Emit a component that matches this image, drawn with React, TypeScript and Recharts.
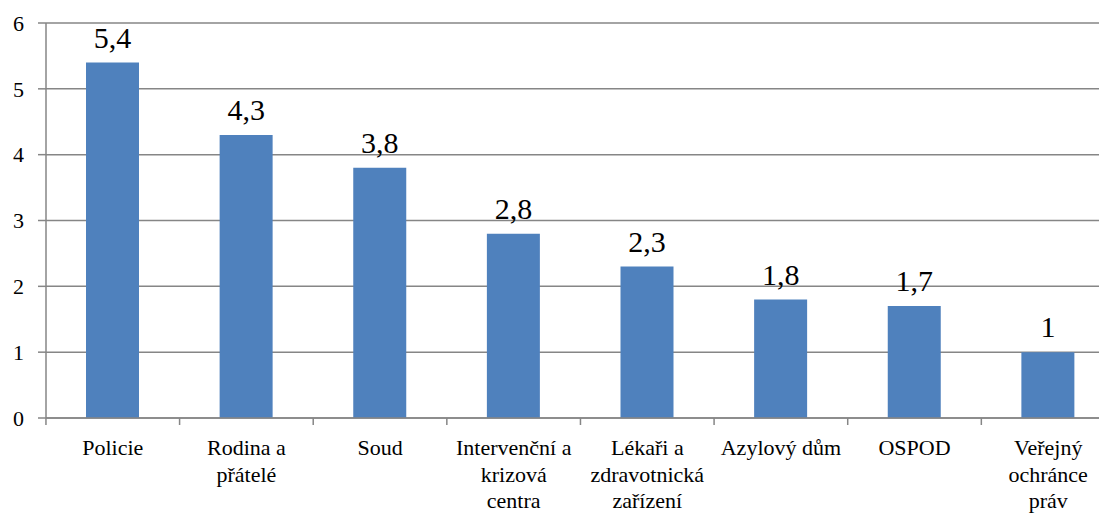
import React from "react";
import { BarChart, Bar, XAxis, YAxis, CartesianGrid, LabelList } from "recharts";

const categories = [
  "Policie",
  "Rodina a přátelé",
  "Soud",
  "Intervenční a krizová centra",
  "Lékaři a zdravotnická zařízení",
  "Azylový dům",
  "OSPOD",
  "Veřejný ochránce práv",
];
const tickLines: string[][] = [
  ["Policie"],
  ["Rodina a", "přátelé"],
  ["Soud"],
  ["Intervenční a", "krizová", "centra"],
  ["Lékaři a", "zdravotnická", "zařízení"],
  ["Azylový dům"],
  ["OSPOD"],
  ["Veřejný", "ochránce", "práv"],
];
const values = [5.4, 4.3, 3.8, 2.8, 2.3, 1.8, 1.7, 1];
const yTicks = [0, 1, 2, 3, 4, 5, 6];

const data = categories.map((c, i) => ({ name: c, value: values[i] }));

const FONT = "Times New Roman";
const GRAY = "#868686";
const LEFT = 46;
const PLOT_W = 1061;
const BAND = 133.7;

const CatTick = (props: any) => {
  const { x, y, payload } = props;
  const i = typeof payload?.index === "number" ? payload.index : categories.indexOf(payload.value);
  const lines = tickLines[i] || [String(payload.value)];
  const bx = x - BAND / 2;
  return (
    <g>
      <line x1={bx} y1={y} x2={bx} y2={y + 7} stroke={GRAY} strokeWidth={1.5} />
      {lines.map((l, k) => (
        <text
          key={k}
          x={x}
          y={y + 37 + k * 26.5}
          textAnchor="middle"
          fontFamily={FONT}
          fontSize={22}
          fill="#000"
        >
          {l}
        </text>
      ))}
    </g>
  );
};

const fmt = (v: any) => String(v).replace(".", ",");

export default function App() {
  return (
    <div style={{ marginLeft: -8, marginTop: -8, width: 1107, height: 514, fontFamily: FONT }}>
      <BarChart
        width={LEFT + PLOT_W}
        height={514}
        data={data}
        margin={{ top: 23, right: 0, bottom: 0, left: 0 }}
        barSize={53}
      >
        <CartesianGrid horizontal vertical={false} stroke={GRAY} strokeWidth={1.5} />
        <XAxis
          dataKey="name"
          height={96}
          interval={0}
          tick={<CatTick />}
          tickLine={false}
          tickSize={0}
          tickMargin={0}
          axisLine={{ stroke: GRAY, strokeWidth: 1.5 }}
          padding={{ left: 0, right: -8 }}
        />
        <YAxis
          width={LEFT}
          domain={[0, 6]}
          ticks={yTicks}
          interval={0}
          tickSize={8}
          tickMargin={14}
          tickLine={{ stroke: GRAY, strokeWidth: 1.5 }}
          axisLine={{ stroke: GRAY, strokeWidth: 1.5 }}
          tick={{ fontSize: 22, fill: "#000", fontFamily: FONT }}
        />
        <Bar dataKey="value" fill="#4F81BD" isAnimationActive={false}>
          <LabelList
            dataKey="value"
            position="top"
            offset={15}
            formatter={fmt}
            fontFamily={FONT}
            fontSize={30}
            fill="#000"
          />
        </Bar>
      </BarChart>
    </div>
  );
}
